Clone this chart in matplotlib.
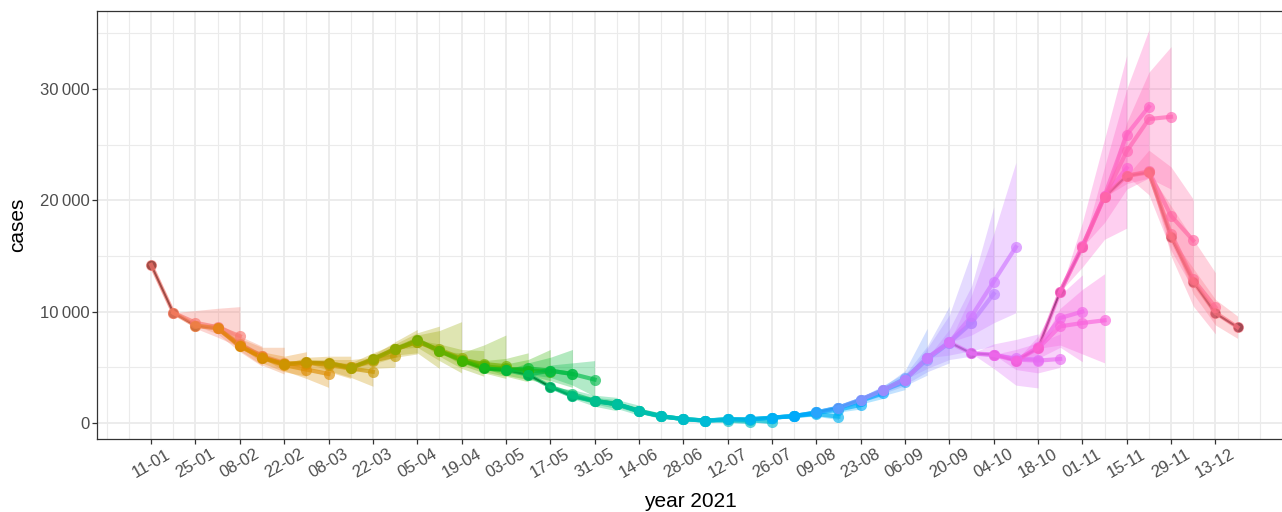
import numpy as np
import pandas as pd
import matplotlib
matplotlib.use('Agg')
import matplotlib.pyplot as plt
import matplotlib.dates as mdates
from matplotlib.ticker import FixedLocator, FuncFormatter

plt.rcParams['font.family'] = ['Liberation Sans', 'DejaVu Sans']

# weekly observed cases, 2021 (first week starts 11-01)
dates = pd.date_range('2021-01-11', periods=50, freq='7D')
obs = [14200, 9900, 8750, 8500, 6900, 5850, 5300, 5450, 5400, 4950,
       5750, 6650, 7450, 6450, 5600, 4900, 4750, 4350, 3250, 2400,
       1950, 1700, 1050, 600, 350, 200, 350, 330, 480, 630,
       950, 1380, 2100, 2950, 3900, 5850, 7250, 6250, 6150, 5600,
       6700, 11800, 15800, 20300, 22200, 22500, 16700, 12700, 9850, 8600]

# forecasts: origin week index, then values 1..3 weeks ahead
fc_origin = list(range(1, 47))
fc_mid = [
    [9000, 8600, 7800], [8500, 7100, 6000], [7000, 6000, 5400], [5900, 5300, 5300],
    [5200, 4800, 4400], [5400, 5300, 5000], [5200, 4900, 4600], [5000, 5600, 6050],
    [5700, 6600, 7300], [6600, 7300, 6500], [7300, 6600, 5800], [6500, 5700, 5200],
    [5700, 5300, 5100], [5100, 4900, 4700], [4800, 4700, 4600], [4900, 4700, 4400],
    [4700, 4400, 3900], [2600, 2000, 1700], [2000, 1700, 1100], [1700, 1100, 650],
    [1050, 620, 350], [600, 360, 210], [360, 220, 340], [220, 200, 100],
    [340, 250, 80], [330, 470, 620], [480, 630, 950], [620, 800, 570],
    [900, 1200, 1620], [1380, 2000, 2670], [2100, 2900, 3700], [2950, 4000, 5800],
    [3900, 5700, 7200], [5800, 7300, 9000], [7200, 8980, 11600], [9580, 12700, 15800],
    [6100, 5800, 5700], [5700, 5600, 5750], [6800, 9430, 10000], [8680, 8980, 9220],
    [15900, 20400, 22900], [20400, 25900, 28400], [24400, 27300, 27500], [22600, 18600, 16400],
    [17000, 12900, 10400], [12700, 9900, 8600]]
fc_lo = [
    [8500, 7700, 6800], [8000, 6400, 5100], [6500, 5200, 4400], [5400, 4600, 4200],
    [4700, 4000, 3200], [4900, 4600, 4000], [4700, 4100, 3300], [4600, 4900, 5000],
    [5300, 5900, 6200], [6100, 6300, 4900], [6800, 5600, 4500], [6000, 4900, 4200],
    [5200, 4500, 4000], [4600, 4200, 3700], [4300, 3900, 3500], [4300, 3800, 3200],
    [4100, 3400, 2400], [2200, 1500, 1100], [1700, 1300, 700], [1450, 850, 400],
    [880, 450, 200], [480, 250, 100], [290, 140, 210], [170, 120, 20],
    [280, 160, 0], [270, 360, 450], [390, 480, 700], [520, 600, 300],
    [780, 980, 1250], [1230, 1700, 2200], [1880, 2450, 3000], [2650, 3350, 4300],
    [3450, 4600, 5400], [4900, 5700, 6000], [6100, 6500, 6900], [7900, 9000, 9900],
    [4900, 3400, 3150], [4800, 4500, 5000], [5800, 6800, 5500], [7000, 6200, 5400],
    [14000, 16500, 17500], [18000, 21000, 22000], [21500, 22000, 21000], [20500, 15500, 12000],
    [15000, 10500, 8000], [11600, 8800, 7600]]
fc_hi = [
    [10100, 10300, 10450], [9000, 7800, 6900], [7600, 6800, 6800], [6400, 6000, 6400],
    [5600, 5500, 5400], [5900, 6000, 6000], [5700, 5700, 5900], [5400, 6300, 7100],
    [6100, 7300, 8400], [7100, 8100, 8700], [7900, 8300, 9100], [7100, 6600, 6500],
    [6300, 7000, 7900], [5600, 5800, 6300], [5300, 5700, 6600], [5400, 5900, 6600],
    [5200, 5400, 5600], [3000, 2500, 2300], [2300, 2100, 1600], [1950, 1350, 900],
    [1220, 800, 520], [720, 470, 340], [430, 300, 470], [270, 280, 200],
    [400, 350, 200], [390, 580, 800], [570, 780, 1200], [720, 1000, 900],
    [1020, 1450, 2000], [1530, 2300, 3150], [2320, 3350, 4500], [3250, 4700, 8500],
    [4350, 6900, 10500], [6700, 9700, 15300], [8400, 12300, 19400], [11500, 17000, 23400],
    [7100, 7500, 8000], [6600, 7200, 8000], [7800, 11500, 13300], [10300, 12000, 13400],
    [18000, 25500, 33000], [23000, 30000, 35300], [27000, 31500, 33800], [24500, 23000, 20100],
    [19500, 16500, 13500], [13900, 11100, 9600]]


def hue_pal(n, l=65, c=100):
    # ggplot2 default hue palette (HCL -> sRGB via CIELUV)
    hues = np.linspace(15, 375, n + 1)[:-1]
    Xn, Yn, Zn = 95.047, 100.0, 108.883
    un = 4 * Xn / (Xn + 15 * Yn + 3 * Zn)
    vn = 9 * Yn / (Xn + 15 * Yn + 3 * Zn)
    out = []
    for h in hues:
        u = c * np.cos(np.deg2rad(h))
        v = c * np.sin(np.deg2rad(h))
        Y = Yn * ((l + 16) / 116) ** 3
        up = u / (13 * l) + un
        vp = v / (13 * l) + vn
        X = 9 * Y * up / (4 * vp)
        Z = -X / 3 - 5 * Y + 3 * Y / vp
        X, Y, Z = X / 100, Y / 100, Z / 100
        rgb = np.array([3.240479 * X - 1.537150 * Y - 0.498535 * Z,
                        -0.969256 * X + 1.875992 * Y + 0.041556 * Z,
                        0.055648 * X - 0.204043 * Y + 1.057311 * Z])
        rgb = np.where(rgb > 0.0031308, 1.055 * np.abs(rgb) ** (1 / 2.4) - 0.055, 12.92 * rgb)
        out.append(tuple(np.clip(rgb, 0, 1)))
    return out


colors = hue_pal(len(fc_origin))
x = mdates.date2num(dates)
week = 7.0

fig = plt.figure(figsize=(12.82, 5.12), dpi=100)
ax = fig.add_axes([0.0757, 0.1426, 0.9263, 0.8359])

# observed
ax.plot(x, obs, color='black', lw=1.5, zorder=2)
ax.plot(x, obs, 'o', color='black', ms=6, zorder=2)

# ribbons
for i, k in enumerate(fc_origin):
    lo = [obs[k]] + fc_lo[i]
    hi = [obs[k]] + fc_hi[i]
    ax.fill_between(x[k:k + 4], lo, hi, color=colors[i], alpha=0.3, lw=0, zorder=3)

# forecast lines and points
for i, k in enumerate(fc_origin):
    ys = [obs[k - 1], obs[k]] + fc_mid[i]
    ax.plot(x[k - 1:k + 4], ys, color=colors[i], lw=3, alpha=0.65, zorder=4)
for i, k in enumerate(fc_origin):
    ys = [obs[k - 1], obs[k]] + fc_mid[i]
    ax.plot(x[k - 1:k + 4], ys, 'o', color=colors[i], ms=8, alpha=0.65, mew=0, zorder=5)

# axes
ax.set_xlim(x[0] - 2.44 * week, x[0] + 51.12 * week)
ax.set_ylim(-1437, 37000)
ax.xaxis.set_major_locator(FixedLocator(x[:49:2]))
ax.xaxis.set_major_formatter(mdates.DateFormatter('%d-%m'))
ax.xaxis.set_minor_locator(FixedLocator([x[0] + w * week for w in range(-2, 52) if w % 2 == 1 or w < 0 or w > 48]))
ax.yaxis.set_major_locator(FixedLocator([0, 10000, 20000, 30000]))
ax.yaxis.set_minor_locator(FixedLocator([5000, 15000, 25000, 35000]))
ax.yaxis.set_major_formatter(FuncFormatter(lambda v, p: f'{int(v):,}'.replace(',', '\u2009')))

ax.grid(which='major', color='#EBEBEB', lw=1.3, zorder=0)
ax.grid(which='minor', color='#EBEBEB', lw=0.8, zorder=0)
ax.set_axisbelow(True)
for s in ax.spines.values():
    s.set_color('#333333')
    s.set_linewidth(0.9)

ax.tick_params(which='major', length=3.5, width=0.9, color='#333333', labelsize=12, labelcolor='#4D4D4D', pad=2)
ax.tick_params(which='minor', length=0)
for lab in ax.get_xticklabels():
    lab.set_rotation(30)
    lab.set_ha('center')
    lab.set_va('top')

ax.set_xlabel('year 2021', fontsize=15, color='black')
ax.xaxis.set_label_coords(0.5, -0.125)
ax.set_ylabel('cases', fontsize=15, color='black', va='center')
ax.yaxis.set_label_coords(-0.0667, 0.5)

fig.savefig('out.png', dpi=100)
